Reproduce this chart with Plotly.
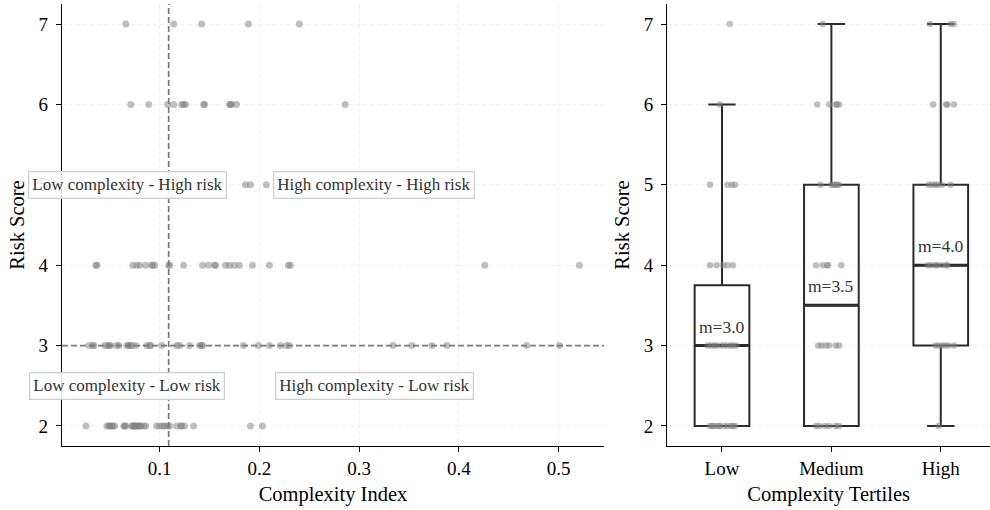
import plotly.graph_objects as go

# ---- Scatter data: complexity index of each case, grouped by risk score ----
cx_risk2 = [0.026, 0.047, 0.049, 0.050, 0.052, 0.053, 0.055, 0.064, 0.065, 0.066,
            0.072, 0.073, 0.074, 0.075, 0.076, 0.077, 0.079, 0.080, 0.081, 0.084,
            0.086, 0.097, 0.100, 0.103, 0.105, 0.108, 0.110, 0.117, 0.121, 0.122,
            0.125, 0.134, 0.191, 0.203]
cx_risk3 = [0.029, 0.033, 0.034, 0.045, 0.048, 0.049, 0.051, 0.057, 0.059, 0.067,
            0.069, 0.070, 0.072, 0.076, 0.087, 0.090, 0.091, 0.102, 0.117, 0.120,
            0.130, 0.140, 0.142, 0.143, 0.184, 0.199, 0.210, 0.221, 0.227, 0.230,
            0.334, 0.353, 0.373, 0.388, 0.468, 0.501]
cx_risk4 = [0.036, 0.037, 0.073, 0.077, 0.080, 0.086, 0.092, 0.093, 0.095, 0.109,
            0.110, 0.124, 0.143, 0.149, 0.155, 0.156, 0.166, 0.170, 0.175, 0.180,
            0.193, 0.210, 0.229, 0.231, 0.426, 0.521]
cx_risk5 = [0.035, 0.055, 0.068, 0.078, 0.092, 0.101, 0.108, 0.115, 0.125, 0.138,
            0.160, 0.186, 0.191, 0.207]
cx_risk6 = [0.071, 0.089, 0.108, 0.114, 0.122, 0.124, 0.126, 0.144, 0.145, 0.170,
            0.171, 0.172, 0.177, 0.286]
cx_risk7 = [0.066, 0.114, 0.142, 0.189, 0.240]

# reference lines (medians)
complexity_median = 0.109
risk_median = 3

x_ticks = [0.1, 0.2, 0.3, 0.4, 0.5]
x_tick_labels = ["0.1", "0.2", "0.3", "0.4", "0.5"]
risk_ticks = [2, 3, 4, 5, 6, 7]

# ---- Box plot by complexity tertile ----
tertiles = ["Low", "Medium", "High"]
tertile_pos = [0, 1, 2]
box_q1 = [2.0, 2.0, 3.0]
box_median = [3.0, 3.5, 4.0]
box_q3 = [3.75, 5.0, 5.0]
box_low = [2.0, 2.0, 2.0]
box_high = [6.0, 7.0, 7.0]

# strip points per tertile: risk score and horizontal jitter offset
low_strip_risk = [7, 6, 5, 5, 5, 5, 4, 4, 4, 4, 4,
                  3, 3, 3, 3, 3, 3, 3, 3, 3, 3,
                  2, 2, 2, 2, 2, 2, 2, 2, 2, 2, 2]
low_strip_offset = [0.07, -0.02, -0.11, 0.05, 0.09, 0.12, -0.11, -0.05, 0.01, 0.05, 0.10,
                    -0.13, -0.10, -0.07, -0.05, -0.01, 0.02, 0.05, 0.08, 0.10, 0.13,
                    -0.11, -0.09, -0.08, -0.05, -0.03, -0.02, 0.02, 0.05, 0.08, 0.10, 0.12]
med_strip_risk = [7, 6, 6, 6, 6, 6, 5, 5, 5, 5, 5, 5,
                  4, 4, 4, 4, 4, 3, 3, 3, 3, 3, 3,
                  2, 2, 2, 2, 2, 2]
med_strip_offset = [-0.08, -0.13, -0.02, 0.04, 0.05, 0.07, -0.10, 0.00, 0.02, 0.04, 0.05, 0.07,
                    -0.14, -0.08, -0.04, -0.03, 0.09, -0.12, -0.09, -0.05, -0.02, 0.04, 0.07,
                    -0.14, -0.11, -0.06, -0.02, 0.04, 0.07]
high_strip_risk = [7, 7, 7, 6, 6, 6, 6, 5, 5, 5, 5, 5, 5,
                   4, 4, 4, 4, 4, 4, 4, 3, 3, 3, 3, 3, 3, 2]
high_strip_offset = [-0.10, 0.09, 0.12, -0.07, 0.05, 0.06, 0.12, -0.11, -0.08, -0.05, -0.03, 0.01, 0.09,
                     -0.12, -0.09, -0.05, -0.03, 0.01, 0.05, 0.06, -0.05, -0.02, 0.01, 0.04, 0.07, 0.12,
                     -0.02]

FONT = "Liberation Serif, Times New Roman, serif"
DOT = "rgba(128,128,128,0.5)"
INK = "#2b2b2b"
GRID = "#f0f0f0"

fig = go.Figure()

# ---- left: scatter of complexity vs risk ----
groups = [(2, cx_risk2), (3, cx_risk3), (4, cx_risk4), (5, cx_risk5), (6, cx_risk6), (7, cx_risk7)]
sx, sy = [], []
for r, xs in groups:
    sx += xs
    sy += [r] * len(xs)

fig.add_trace(go.Scatter(
    x=sx, y=sy, mode="markers", xaxis="x", yaxis="y",
    marker=dict(size=7, color=DOT, line=dict(width=0)),
    showlegend=False, hoverinfo="skip"))

# median reference lines
fig.add_shape(type="line", xref="x", yref="y domain", x0=complexity_median, x1=complexity_median,
              y0=0, y1=1, line=dict(color="#7a7a7a", width=1.7, dash="6px,3px"))
fig.add_shape(type="line", xref="x domain", yref="y", x0=0, x1=1,
              y0=risk_median, y1=risk_median, line=dict(color="#7a7a7a", width=1.7, dash="6px,3px"))

# quadrant labels placed midway between extremes and medians
x_lo = (min(sx) + complexity_median) / 2
x_hi = (complexity_median + max(sx)) / 2
y_hi = (risk_median + max(sy)) / 2
y_lo = (min(sy) + risk_median) / 2
quadrants = [
    (x_lo, y_hi, "Low complexity - High risk"),
    (x_hi, y_hi, "High complexity - High risk"),
    (x_lo, y_lo, "Low complexity - Low risk"),
    (x_hi, y_lo, "High complexity - Low risk"),
]
for qx, qy, txt in quadrants:
    fig.add_annotation(x=qx, y=qy, xref="x", yref="y", text=txt, showarrow=False,
                       font=dict(family=FONT, size=17, color="#333333"),
                       bgcolor="rgba(255,255,255,0.88)", bordercolor="#cdd1d5",
                       borderwidth=1.3, borderpad=3)

# ---- right: box plot by tertile ----
fig.add_trace(go.Box(
    x=tertile_pos, q1=box_q1, median=box_median, q3=box_q3,
    lowerfence=box_low, upperfence=box_high,
    xaxis="x2", yaxis="y2", width=0.5, whiskerwidth=0.5,
    boxpoints=False, fillcolor="rgba(0,0,0,0)",
    line=dict(color=INK, width=2), showlegend=False, hoverinfo="skip"))

# thicker median bars
mx, my = [], []
for p, m in zip(tertile_pos, box_median):
    mx += [p - 0.25, p + 0.25, None]
    my += [m, m, None]
fig.add_trace(go.Scatter(x=mx, y=my, mode="lines", xaxis="x2", yaxis="y2",
                         line=dict(color=INK, width=3), showlegend=False, hoverinfo="skip"))

# strip points
px_, py_ = [], []
for p, risks, offs in [(0, low_strip_risk, low_strip_offset),
                       (1, med_strip_risk, med_strip_offset),
                       (2, high_strip_risk, high_strip_offset)]:
    px_ += [p + o for o in offs]
    py_ += risks
fig.add_trace(go.Scatter(x=px_, y=py_, mode="markers", xaxis="x2", yaxis="y2",
                         marker=dict(size=6.5, color=DOT, line=dict(width=0)),
                         showlegend=False, hoverinfo="skip"))

for p, m in zip(tertile_pos, box_median):
    fig.add_annotation(x=p, y=m, xref="x2", yref="y2", text=f"m={m:.1f}", showarrow=False,
                       yshift=19, font=dict(family=FONT, size=17.5, color="#333333"))

W, H = 990, 510
axis_common = dict(showline=True, linecolor="black", linewidth=1.3, ticks="outside",
                   ticklen=5, tickwidth=1.3, tickcolor="black", zeroline=False,
                   tickfont=dict(family=FONT, size=19, color="black"), mirror=False)
y_dom = [64 / H, 506 / H]
title_font = dict(family=FONT, size=20.5, color="black")

fig.update_layout(
    width=W, height=H, margin=dict(l=0, r=0, t=0, b=0),
    paper_bgcolor="white", plot_bgcolor="white",
    font=dict(family=FONT),
    xaxis=dict(domain=[62 / W, 604 / W], range=[0.002, 0.5456], tickvals=x_ticks,
               ticktext=x_tick_labels, showgrid=True, gridcolor=GRID, griddash="4px,3px",
               gridwidth=1, anchor="y",
               title=dict(text="Complexity Index", font=title_font, standoff=8), **axis_common),
    yaxis=dict(domain=y_dom, range=[1.75, 7.25], tickvals=risk_ticks, showgrid=True,
               gridcolor=GRID, griddash="4px,3px", gridwidth=1, anchor="x", ticklabelstandoff=4,
               title=dict(text="Risk Score", font=title_font, standoff=8), **axis_common),
    xaxis2=dict(domain=[667.3 / W, 1.0], range=[-0.5, 2.45], tickvals=tertile_pos,
                ticktext=tertiles, showgrid=False, anchor="y2",
                title=dict(text="Complexity Tertiles", font=title_font, standoff=8), **axis_common),
    yaxis2=dict(domain=y_dom, range=[1.75, 7.25], tickvals=risk_ticks, showgrid=True,
                gridcolor=GRID, griddash="4px,3px", gridwidth=1, anchor="x2", ticklabelstandoff=4,
                title=dict(text="Risk Score", font=title_font, standoff=8), **axis_common),
)

fig.write_html("out.html")
